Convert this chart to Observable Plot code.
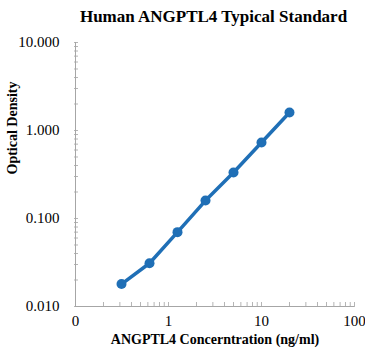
<!DOCTYPE html>
<html><head><meta charset="utf-8">
<script src="https://cdn.jsdelivr.net/npm/d3@7"></script>
<script src="https://cdn.jsdelivr.net/npm/@observablehq/plot@0.6"></script>
<style>
body{margin:0;background:#fff;font-family:"Liberation Serif",serif;}
#title{height:30px;box-sizing:border-box;padding-left:62px;padding-top:4px;text-align:center;font-weight:bold;font-size:17px;line-height:26px;color:#000;}
</style></head><body>
<div id="title">Human ANGPTL4 Typical Standard</div>
<div id="chart"></div>
<script>
const concentrations = [0.3125, 0.625, 1.25, 2.5, 5, 10, 20];
const opticalDensity = [0.018, 0.031, 0.070, 0.160, 0.333, 0.73, 1.60];
const xTicks = [0.1, 1, 10, 100];
const xTickLabels = ["0", "1", "10", "100"];
const yTicks = [0.01, 0.1, 1, 10];
const yTickLabels = ["0.010", "0.100", "1.000", "10.000"];
const xLabel = "ANGPTL4 Concerntration (ng/ml)";
const yLabel = "Optical Density";

const data = concentrations.map((c, i) => ({c, od: opticalDensity[i]}));
const minor = (lo, hi) => {
  const out = [];
  for (let d = lo; d < hi; d *= 10) for (let m = 1; m <= 10; m++) out.push(+(d * m).toPrecision(6));
  return Array.from(new Set(out));
};
const xMinor = minor(0.1, 100);
const yMinor = minor(0.01, 10);
const blue = "#1f6fb6";
const tickGray = "#b5b5b5";

const chart = Plot.plot({
  width: 365, height: 323,
  marginTop: 12, marginBottom: 47, marginLeft: 75, marginRight: 11,
  style: {fontFamily: "Liberation Serif, serif", fontSize: "15px", color: "#000", background: "#fff"},
  x: {type: "log", domain: [0.1, 100]},
  y: {type: "log", domain: [0.01, 10]},
  marks: [
    Plot.axisX(xMinor, {tickSize: 5, dy: -4, stroke: tickGray, fill: "none", label: null}),
    Plot.axisY(yMinor, {tickSize: 4, dx: 3, stroke: tickGray, fill: "none", label: null}),
    Plot.axisX(xTicks, {tickSize: 0, tickPadding: 9, fontSize: 15, tickFormat: (d) => xTickLabels[xTicks.indexOf(d)], label: null}),
    Plot.axisY(yTicks, {tickSize: 0, tickPadding: 16, fontSize: 15, tickFormat: (d) => yTickLabels[yTicks.indexOf(d)], label: null}),
    Plot.ruleY([0.01], {stroke: "#a6a6a6"}),
    Plot.ruleX([0.1], {stroke: "#a6a6a6"}),
    Plot.line(data, {x: "c", y: "od", stroke: blue, strokeWidth: 3.5}),
    Plot.dot(data, {x: "c", y: "od", r: 5, fill: blue, stroke: "none"}),
    Plot.text([xLabel], {frameAnchor: "bottom", dy: 37, fontWeight: "bold", fontSize: 14}),
    Plot.text([yLabel], {frameAnchor: "left", dx: -63, rotate: -90, fontWeight: "bold", fontSize: 14})
  ]
});
document.getElementById("chart").appendChild(chart);
</script>
</body></html>
